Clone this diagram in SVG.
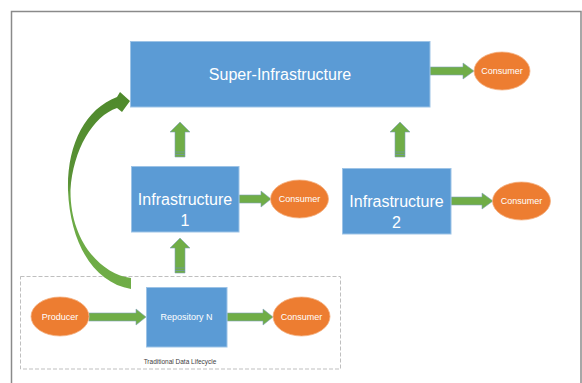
<svg xmlns="http://www.w3.org/2000/svg" width="582" height="383" viewBox="0 0 582 383">
  <defs>
    <linearGradient id="curveFill" gradientUnits="userSpaceOnUse" x1="0" y1="95" x2="0" y2="290">
      <stop offset="0" stop-color="#4f8a2c"/>
      <stop offset="0.45" stop-color="#5a9236"/>
      <stop offset="0.52" stop-color="#6aa844"/>
      <stop offset="1" stop-color="#70ad47"/>
    </linearGradient>
  </defs>
  <style>
    .box { fill: #5b9bd5; stroke: #9dc3e6; stroke-width: 1; }
    .ell { fill: #ed7d31; stroke: #f4b183; stroke-width: 0.8; }
    .arrow { fill: #70ad47; stroke: #7fa3b8; stroke-width: 0.6; }
    .base { stroke: #6f95a8; stroke-width: 0.8; }
    .big { font-family: "Liberation Sans", Arial, sans-serif; font-size: 16px; fill: #ffffff; text-anchor: middle; }
    .small { font-family: "Liberation Sans", Arial, sans-serif; font-size: 9px; fill: #ffffff; text-anchor: middle; }
    .caption { font-family: "Liberation Sans", Arial, sans-serif; font-size: 6.5px; fill: #404040; text-anchor: middle; }
  </style>

  <rect width="582" height="383" fill="#ffffff"/>
  <!-- outer frame -->
  <rect x="11.5" y="11.5" width="569.5" height="390" fill="none" stroke="#8a8a8a" stroke-width="1.5"/>

  <!-- traditional lifecycle container -->
  <g id="lifecycle">
    <rect x="20.5" y="276.5" width="320" height="92.5" fill="none" stroke="#bfbfbf" stroke-width="1" stroke-dasharray="4 2"/>
    <text class="caption" x="180" y="364">Traditional Data Lifecycle</text>
  </g>

  <!-- connectors -->
  <g id="connectors">
    <!-- curved arrow from repository up to the super-infrastructure -->
    <path d="M131,289 C95,283 70,245 68,190 C67,145 85,109 117,97 L120,92 L130,101 L122,112 L117,108 C93,116 73,150 70.5,190 C70,240 100,274 131,278 Z" fill="url(#curveFill)"/>

    <!-- super-infrastructure -> consumer -->
    <polygon class="arrow" points="430,67 463,67 463,63 474,71 463,79 463,75 430,75"/>
    <!-- infrastructure 1 -> consumer -->
    <polygon class="arrow" points="239,195 261,195 261,191 271,199 261,207 261,203 239,203"/>
    <!-- infrastructure 2 -> consumer -->
    <polygon class="arrow" points="451,197 482,197 482,193 493,201 482,209 482,205 451,205"/>
    <!-- producer -> repository -->
    <polygon class="arrow" points="89,313 136,313 136,309 146,317 136,325 136,321 89,321"/>
    <!-- repository -> consumer -->
    <polygon class="arrow" points="227,313 263,313 263,309 273,317 263,325 263,321 227,321"/>

    <!-- infrastructure 1 -> super-infrastructure -->
    <polygon class="arrow" points="175,157 175,132 170,132 180,122 190,132 185,132 185,157"/>
    <line class="base" x1="175" y1="152" x2="185" y2="152"/>
    <line class="base" x1="175" y1="154.5" x2="185" y2="154.5"/>
    <!-- infrastructure 2 -> super-infrastructure -->
    <polygon class="arrow" points="395,157 395,132 390,132 400,122 410,132 405,132 405,157"/>
    <line class="base" x1="395" y1="152" x2="405" y2="152"/>
    <line class="base" x1="395" y1="154.5" x2="405" y2="154.5"/>
    <!-- repository -> infrastructure 1 -->
    <polygon class="arrow" points="175,273 175,248 170,248 180,238 190,248 185,248 185,273"/>
    <line class="base" x1="175" y1="268" x2="185" y2="268"/>
    <line class="base" x1="175" y1="270.5" x2="185" y2="270.5"/>
  </g>

  <g id="super-infrastructure">
    <rect class="box" x="130.5" y="41.5" width="299.5" height="65.5"/>
    <text class="big" x="280" y="80">Super-Infrastructure</text>
  </g>

  <g id="infrastructure-1">
    <rect class="box" x="131.5" y="166.5" width="107.5" height="65.5"/>
    <text class="big" x="185" y="205">Infrastructure</text>
    <text class="big" x="185" y="226">1</text>
  </g>

  <g id="infrastructure-2">
    <rect class="box" x="342.5" y="168.5" width="108.5" height="65.5"/>
    <text class="big" x="396.5" y="207">Infrastructure</text>
    <text class="big" x="396.5" y="228">2</text>
  </g>

  <g id="repository-n">
    <rect class="box" x="146.5" y="287.5" width="80.5" height="59.5"/>
    <text class="small" x="186.5" y="320">Repository N</text>
  </g>

  <g id="consumer-super">
    <ellipse class="ell" cx="502" cy="71" rx="28" ry="19"/>
    <text class="small" x="502" y="74">Consumer</text>
  </g>

  <g id="consumer-1">
    <ellipse class="ell" cx="299.5" cy="199" rx="29" ry="19"/>
    <text class="small" x="299.5" y="202">Consumer</text>
  </g>

  <g id="consumer-2">
    <ellipse class="ell" cx="521.5" cy="201" rx="29" ry="19"/>
    <text class="small" x="521.5" y="204">Consumer</text>
  </g>

  <g id="producer">
    <ellipse class="ell" cx="60" cy="316.5" rx="29" ry="19.5"/>
    <text class="small" x="60" y="319.5">Producer</text>
  </g>

  <g id="consumer-repository">
    <ellipse class="ell" cx="301.5" cy="316.5" rx="28.5" ry="19.5"/>
    <text class="small" x="301.5" y="319.5">Consumer</text>
  </g>
</svg>
